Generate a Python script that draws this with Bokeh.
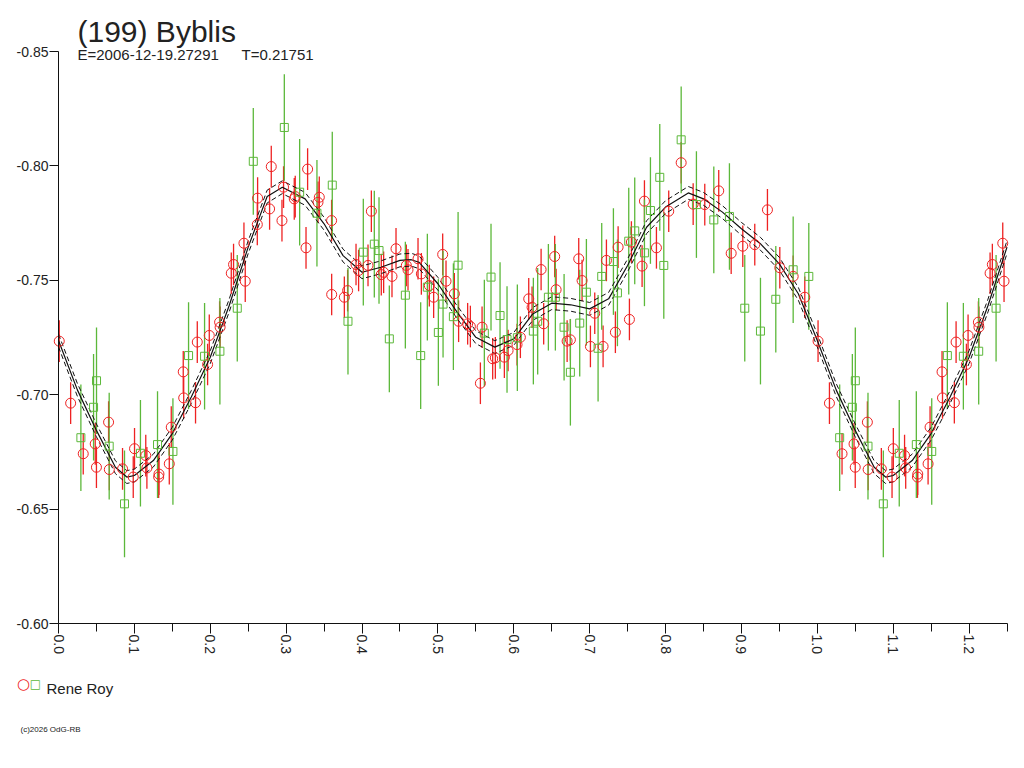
import math
from bokeh.plotting import figure
from bokeh.models import Range1d, FixedTicker, PrintfTickFormatter, Label, ColumnDataSource
from bokeh.embed import file_html
from bokeh.resources import INLINE

# ---------------- texts ----------------
title_text = "(199) Byblis"
epoch_text = "E=2006-12-19.27291"
period_text = "T=0.21751"
observer = "Rene Roy"
credit = "(c)2026 OdG-RB"

# ---------------- data (phase, reduced magnitude) ----------------
red_phase = [0.001, 0.016, 0.0326, 0.0484, 0.050, 0.066, 0.067, 0.0844, 0.1002, 0.0985,
             0.115, 0.1165, 0.132, 0.1324, 0.146, 0.1486, 0.165, 0.1644, 0.1806, 0.1829,
             0.1965, 0.1987, 0.2123, 0.2130, 0.2277, 0.2307, 0.2461, 0.2444, 0.262, 0.2624,
             0.2804, 0.2782, 0.2945, 0.2966, 0.3107, 0.312, 0.3283, 0.3262, 0.3437, 0.342,
             0.3599, 0.3600, 0.3767, 0.381, 0.3921, 0.3955, 0.4079, 0.4123, 0.4254, 0.4285,
             0.4395, 0.4448, 0.4584, 0.4606, 0.4738, 0.4782, 0.4887, 0.4944, 0.5063, 0.5107,
             0.5217, 0.5273, 0.5392, 0.5428, 0.5582, 0.556, 0.5722, 0.5757, 0.5876, 0.5925,
             0.6043, 0.6087, 0.6197, 0.6241, 0.636, 0.6394, 0.6539, 0.6558, 0.6703, 0.6746,
             0.6856, 0.69, 0.701, 0.7067, 0.7177, 0.7221, 0.7339, 0.7375, 0.7524, 0.755,
             0.7691, 0.7722, 0.788, 0.8042, 0.8206, 0.8364, 0.8517, 0.8701, 0.8865, 0.9018,
             0.9176, 0.9343, 0.9506, 0.9682, 0.9835]
red_mag = [-0.7234, -0.6963, -0.6742, -0.6785, -0.6683, -0.688, -0.6673, -0.6676, -0.6764, -0.664,
           -0.6734, -0.668, -0.664, -0.6653, -0.6698, -0.6858, -0.6986, -0.710, -0.6965, -0.723,
           -0.7132, -0.7259, -0.7317, -0.7295, -0.7531, -0.7569, -0.7496, -0.7662, -0.7744, -0.7859,
           -0.7997, -0.7812, -0.7761, -0.7907, -0.7856, -0.7866, -0.7986, -0.7642, -0.7863, -0.7841,
           -0.7761, -0.7438, -0.7426, -0.7455, -0.7569, -0.7543, -0.7565, -0.7802, -0.7525, -0.7535,
           -0.7517, -0.7638, -0.7565, -0.7546, -0.7594, -0.7528, -0.7477, -0.7426, -0.7613, -0.7496,
           -0.7441, -0.7321, -0.731, -0.7298, -0.7295, -0.705, -0.7157, -0.7161, -0.7164, -0.7193,
           -0.7219, -0.7251, -0.7419, -0.7382, -0.7547, -0.731, -0.7604, -0.7459, -0.7234, -0.724,
           -0.7594, -0.7499, -0.7211, -0.7356, -0.7211, -0.7587, -0.7273, -0.7645, -0.7329, -0.7667,
           -0.7562, -0.7846, -0.7642, -0.7802, -0.8014, -0.7833, -0.7831, -0.7891, -0.7618, -0.7649,
           -0.7656, -0.7808, -0.7555, -0.7517, -0.7426]
red_err = 0.0091

green_phase = [0.0295, 0.0462, 0.0501, 0.0668, 0.087, 0.108, 0.1305, 0.1508, 0.1714, 0.1925,
               0.2127, 0.2356, 0.2567, 0.2976, 0.3178, 0.3406, 0.3608, 0.3815, 0.4017, 0.4162,
               0.4224, 0.436, 0.4571, 0.4773, 0.4861, 0.5006, 0.5068, 0.5204, 0.5266, 0.5612,
               0.57, 0.5819, 0.5911, 0.6047, 0.6258, 0.6315, 0.6456, 0.6548, 0.6663, 0.6746,
               0.6869, 0.6957, 0.7111, 0.7159, 0.7313, 0.7366, 0.7515, 0.7594, 0.7722, 0.7801,
               0.7924, 0.7977, 0.8206, 0.8407, 0.8636, 0.8842, 0.9044, 0.9251, 0.9453, 0.9682,
               0.9888]
green_mag = [-0.6812, -0.6945, -0.7061, -0.6775, -0.6523, -0.6744, -0.6782, -0.6752, -0.7171, -0.7168,
             -0.719, -0.7378, -0.802, -0.8168, -0.7885, -0.7793, -0.7916, -0.7321, -0.7623, -0.7658,
             -0.763, -0.7244, -0.7435, -0.7171, -0.747, -0.7272, -0.7396, -0.7341, -0.7566, -0.7269,
             -0.7514, -0.7346, -0.7241, -0.7249, -0.7278, -0.7321, -0.7426, -0.7426, -0.7295, -0.7098,
             -0.7313, -0.7448, -0.7203, -0.7517, -0.7582, -0.7445, -0.7671, -0.7716, -0.762, -0.7805,
             -0.795, -0.7565, -0.8114, -0.7831, -0.7764, -0.7779, -0.7378, -0.7278, -0.7417, -0.7546,
             -0.7517]
green_err = 0.0233

fit_phase = [0.0, 0.025, 0.05, 0.075, 0.09, 0.1, 0.125, 0.15, 0.175, 0.2, 0.225, 0.25, 0.275,
             0.295, 0.325, 0.35, 0.375, 0.4, 0.425, 0.45, 0.465, 0.475, 0.5, 0.525, 0.55, 0.575,
             0.6, 0.625, 0.65, 0.675, 0.7, 0.725, 0.75, 0.775, 0.8, 0.83, 0.85, 0.875, 0.9, 0.925,
             0.95, 0.975, 1.0]
fit_mag = [-0.7237, -0.702, -0.6844, -0.6683, -0.664, -0.6647, -0.6712, -0.683, -0.699, -0.7164,
           -0.739, -0.7645, -0.7866, -0.7907, -0.7856, -0.7747, -0.7608, -0.7535, -0.7557, -0.7587,
           -0.759, -0.7579, -0.7485, -0.7362, -0.7251, -0.7208, -0.7244, -0.7353, -0.740, -0.7393,
           -0.7375, -0.7419, -0.7565, -0.7732, -0.782, -0.7882, -0.7856, -0.7798, -0.7725, -0.766,
           -0.7572, -0.7441, -0.7237]
fit_sigma = 0.0028

x_ticks = [0.0, 0.1, 0.2, 0.3, 0.4, 0.5, 0.6, 0.7, 0.8, 0.9, 1.0, 1.1, 1.2]
x_minor_ticks = [0.05, 0.15, 0.25, 0.35, 0.45, 0.55, 0.65, 0.75, 0.85, 0.95, 1.05, 1.15, 1.25]
y_ticks = [-0.85, -0.80, -0.75, -0.70, -0.65, -0.60]
PHASE_MIN, PHASE_MAX = 0.0, 1.25
MAG_TOP, MAG_BOTTOM = -0.85, -0.60

RED = "#ee2222"
GREEN = "#5cb83a"
FONT = "Liberation Sans"

# ---------------- layout (canvas pixels) ----------------
W, H = 1016, 760
AX_LEFT, AX_RIGHT = 58.0, 1006.5      # where phase 0 and phase 1.25 sit
AX_TOP, AX_BOTTOM = 51.0, 623.0       # where mag -0.85 and -0.60 sit
kx = (AX_RIGHT - AX_LEFT) / (PHASE_MAX - PHASE_MIN)
ky = (AX_BOTTOM - AX_TOP) / (MAG_BOTTOM - MAG_TOP)
x_range = Range1d(PHASE_MIN - AX_LEFT / kx, PHASE_MAX + (W - AX_RIGHT) / kx)
y_range = Range1d(MAG_BOTTOM + (H - AX_BOTTOM) / ky, MAG_TOP - AX_TOP / ky)


def tile(ph, mg):
    """Repeat the start of the phase curve after phase 1 (standard lightcurve display)."""
    xs = list(ph) + [v + 1.0 for v in ph if 0 < v and v + 1.0 <= PHASE_MAX]
    ys = list(mg) + [m for v, m in zip(ph, mg) if 0 < v and v + 1.0 <= PHASE_MAX]
    return xs, ys


rx, ry = tile(red_phase, red_mag)
gx, gy = tile(green_phase, green_mag)
fx, fy = tile(fit_phase, fit_mag)

red_src = ColumnDataSource(dict(x=rx, y=ry,
                                lo=[v - red_err for v in ry], hi=[v + red_err for v in ry]))
green_src = ColumnDataSource(dict(x=gx, y=gy,
                                  lo=[v - green_err for v in gy], hi=[v + green_err for v in gy]))
fit_src = ColumnDataSource(dict(x=fx, y=fy,
                                up=[v - fit_sigma for v in fy], dn=[v + fit_sigma for v in fy]))

p = figure(width=W, height=H, output_backend="svg", toolbar_location=None, tools="",
           x_range=x_range, y_range=y_range,
           min_border_left=0, min_border_right=0, min_border_top=0, min_border_bottom=0)
p.title.visible = False
p.grid.visible = False
p.outline_line_color = None
p.background_fill_color = "white"
p.border_fill_color = "white"

# error bars
p.segment(x0="x", y0="lo", x1="x", y1="hi", source=red_src, line_color=RED, line_width=1.3)
p.segment(x0="x", y0="lo", x1="x", y1="hi", source=green_src, line_color=GREEN, line_width=1.3)

# fitted curve and its band
p.line("x", "y", source=fit_src, line_color="#111111", line_width=1.2)
p.line("x", "up", source=fit_src, line_color="#111111", line_width=1, line_dash="5 3")
p.line("x", "dn", source=fit_src, line_color="#111111", line_width=1, line_dash="5 3")

# markers
p.scatter("x", "y", source=red_src, marker="circle", size=10, fill_color=None,
          line_color=RED, line_width=1)
p.scatter("x", "y", source=green_src, marker="square", size=8, fill_color=None,
          line_color=GREEN, line_width=1)

# axes (pinned to the data box so the canvas can hold the titles and legend)
xa = p.xaxis[0]
xa.fixed_location = MAG_BOTTOM
xa.bounds = (PHASE_MIN, PHASE_MAX)
xa.ticker = FixedTicker(ticks=x_ticks, minor_ticks=x_minor_ticks)
xa.formatter = PrintfTickFormatter(format="%.1f")
xa.major_label_orientation = -math.pi / 2
xa.major_tick_out = 10
xa.major_tick_in = 0
xa.minor_tick_out = 8
xa.minor_tick_in = 0
xa.major_label_standoff = 1
ya = p.yaxis[0]
ya.fixed_location = PHASE_MIN
ya.bounds = (MAG_TOP, MAG_BOTTOM)
ya.ticker = FixedTicker(ticks=y_ticks, minor_ticks=[])
ya.formatter = PrintfTickFormatter(format="%.2f")
ya.major_tick_out = 9
ya.major_tick_in = 0
ya.minor_tick_out = 0
ya.minor_tick_in = 0
ya.major_label_standoff = 1
for ax in (xa, ya):
    ax.axis_line_color = "#111111"
    ax.major_tick_line_color = "#111111"
    ax.minor_tick_line_color = "#111111"
    ax.major_label_text_font = FONT
    ax.major_label_text_font_size = "14px"
    ax.major_label_text_color = "#222222"


def add_label(text, cx, cy, size, color="#222222", align="left", baseline="alphabetic", font=FONT):
    p.add_layout(Label(x=cx, y=cy, x_units="canvas", y_units="canvas", text=text,
                       text_font=font, text_font_size=size, text_color=color,
                       text_align=align, text_baseline=baseline))


add_label(title_text, 77, 31, "30px")
add_label(epoch_text, 77, 54, "15px")
add_label(period_text, 241, 54, "15px")
add_label("\u25CB", 23, 683, "15px", color=RED, align="center", baseline="middle", font="DejaVu Sans")
add_label("\u25A1", 35, 683, "12px", color=GREEN, align="center", baseline="middle", font="DejaVu Sans")
add_label(observer, 46, 688, "15px")
add_label(credit, 20, 729, "8px")

open("out.html", "w").write(file_html(p, INLINE))
